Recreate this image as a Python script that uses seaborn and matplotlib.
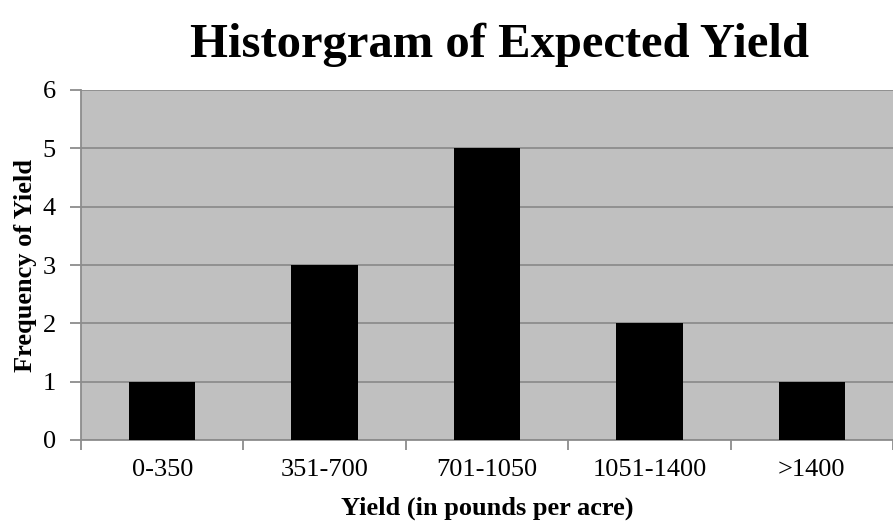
import matplotlib
matplotlib.use("Agg")
import matplotlib.pyplot as plt
import seaborn as sns
import pandas as pd
import numpy as np
from matplotlib.ticker import FixedLocator

categories = ["0-350", "351-700", "701-1050", "1051-1400", ">1400"]
frequencies = [1, 3, 5, 2, 1]

df = pd.DataFrame({"bin": categories, "freq": frequencies})

sns.set_style("white")
plt.rcParams["font.family"] = ["Liberation Serif", "DejaVu Serif"]
plt.rcParams["text.color"] = "black"
plt.rcParams["axes.labelcolor"] = "black"
plt.rcParams["xtick.color"] = "black"
plt.rcParams["ytick.color"] = "black"

fig = plt.figure(figsize=(8.93, 5.22), dpi=100)
ax = fig.add_axes([81/893, 1-440/522, 1-81/893, 350/522])
ax.set_facecolor("#C0C0C0")

sns.barplot(data=df, x="bin", y="freq", color="black", width=0.41,
            saturation=1, ax=ax, zorder=3, edgecolor="black", linewidth=0)

ax.set_ylim(0, 6)
ax.set_xlim(-0.5, 4.5)
ax.set_yticks(range(0, 7))
ax.yaxis.grid(True, color="#8C8C8C", linewidth=1.3, zorder=1)
ax.set_axisbelow(True)

for s in ["top", "right"]:
    ax.spines[s].set_visible(False)
for s in ["left", "bottom"]:
    ax.spines[s].set_color("#8C8C8C")
    ax.spines[s].set_linewidth(1.3)

ax.tick_params(axis="y", which="major", direction="out", length=8, width=1.3,
               color="#8C8C8C", labelcolor="black", labelsize=19, pad=10, left=True)
ax.tick_params(axis="x", which="major", length=0, labelsize=19, labelcolor="black", pad=14)
ax.xaxis.set_minor_locator(FixedLocator(np.arange(-0.5, 5, 1.0)))
ax.tick_params(axis="x", which="minor", direction="out", length=7, width=1.3,
               color="#8C8C8C", bottom=True)

ax.set_xlabel("Yield (in pounds per acre)", fontsize=19, fontweight="bold", labelpad=11)
ax.set_ylabel("Frequency of Yield", fontsize=19, fontweight="bold", labelpad=4)

fig.text(0.559, 0.915, "Historgram of Expected Yield", ha="center", va="center",
         fontsize=35, fontweight="bold")

fig.savefig("out.png", dpi=100)
